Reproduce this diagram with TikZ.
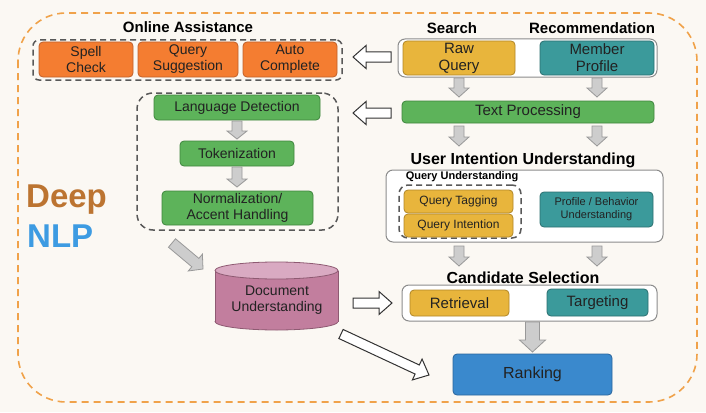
\documentclass[tikz,border=0pt]{standalone}
\usepackage{fontspec}
\setmainfont{Liberation Sans}
\usetikzlibrary{calc,fit}
\definecolor{bg}{HTML}{FBF8F3}
\definecolor{outer}{HTML}{F0A24A}
\definecolor{orfill}{HTML}{F47D31}
\definecolor{ordraw}{HTML}{C0602A}
\definecolor{yefill}{HTML}{E8B53C}
\definecolor{yedraw}{HTML}{B08628}
\definecolor{tefill}{HTML}{3B9A9B}
\definecolor{tedraw}{HTML}{2B6F70}
\definecolor{grfill}{HTML}{5DB35A}
\definecolor{grdraw}{HTML}{3E843D}
\definecolor{blfill}{HTML}{3A89CD}
\definecolor{bldraw}{HTML}{2A659C}
\definecolor{pkfill}{HTML}{C27E9E}
\definecolor{pktop}{HTML}{D9AAC2}
\definecolor{pkdraw}{HTML}{8E5A72}
\definecolor{arrfill}{HTML}{CDCDCD}
\definecolor{arrdraw}{HTML}{999999}
\definecolor{txt}{HTML}{222222}
\definecolor{deepc}{HTML}{BC7431}
\definecolor{nlpc}{HTML}{3D9BE2}
\newcommand\barrow[6]{%
  \coordinate (ba1) at (#2);
  \coordinate (ba2) at (#3);
  \coordinate (bah) at ($(ba2)!#6!(ba1)$);
  \draw[#1] ($(ba1)!#4!90:(ba2)$) -- ($(bah)!#4!90:(ba2)$) -- ($(bah)!#5!90:(ba2)$)
    -- (ba2) -- ($(bah)!#5!-90:(ba2)$) -- ($(bah)!#4!-90:(ba2)$) -- ($(ba1)!#4!-90:(ba2)$) -- cycle;
}
\tikzset{
  box/.style={rounded corners=4pt, line width=0.8pt, align=center, text=txt, inner sep=0pt, font=\fontsize{14}{16}\selectfont},
  orbox/.style={box, fill=orfill, draw=ordraw},
  yebox/.style={box, fill=yefill, draw=yedraw},
  tebox/.style={box, fill=tefill, draw=tedraw},
  grbox/.style={box, fill=grfill, draw=grdraw},
  blbox/.style={box, fill=blfill, draw=bldraw},
  dashgroup/.style={draw=black!65, dash pattern=on 6pt off 4pt, line width=1.5pt, inner sep=0pt},
  whitegroup/.style={draw=black!45, fill=white, rounded corners=7pt, line width=1pt, inner sep=0pt},
  title/.style={font=\bfseries\fontsize{15}{17}\selectfont, text=black, inner sep=0pt},
  grayarr/.style={fill=arrfill, draw=arrdraw, line width=0.8pt, line join=miter},
  hollowarr/.style={fill=white, draw=black!80, line width=1pt, line join=miter},
}
\begin{document}
\begin{tikzpicture}[x=1pt,y=-1pt]
\useasboundingbox (0,0) rectangle (706,412);
\fill[bg] (0,0) rectangle (706,412);
% outer dashed frame
\draw[outer, line width=1.6pt, dash pattern=on 7pt off 5pt, rounded corners=48pt] (18,13) rectangle (697,402);

% Deep NLP
\node[anchor=base west, text=deepc, font=\bfseries\fontsize{33}{33}\selectfont, inner sep=0pt] (deep) at (26,207) {Deep};
\node[anchor=base west, text=nlpc, font=\bfseries\fontsize{33}{33}\selectfont, inner sep=0pt] (nlp) at (27,247) {NLP};

% Online assistance
\node[title] (ontitle) at (188,27) {Online Assistance};
\node[dashgroup, rounded corners=6pt, minimum width=309pt, minimum height=40pt] (ongroup) at (187.5,60) {};
\node[orbox, minimum width=94pt, minimum height=35pt] (spell) at (86,59.5) {Spell\\Check};
\node[orbox, minimum width=100pt, minimum height=35pt] (qsugg) at (188,59.5) {Query\\Suggestion};
\node[orbox, minimum width=94pt, minimum height=35pt] (auto) at (290,59.5) {Auto\\Complete};

% Search / Recommendation
\node[title] (search) at (452,28) {Search};
\node[title] (recom) at (592,28) {Recommendation};
\node[whitegroup, minimum width=259pt, minimum height=38pt] (sgroup) at (527.5,58) {};
\node[yebox, minimum width=112pt, minimum height=34pt, font=\fontsize{15}{17}\selectfont] (raw) at (459,58) {Raw\\Query};
\node[tebox, minimum width=114pt, minimum height=34pt, font=\fontsize{15}{17}\selectfont] (member) at (597,58) {Member\\Profile};

% Text processing
\node[grbox, minimum width=252pt, minimum height=22pt, font=\fontsize{15}{17}\selectfont] (textproc) at (528,112) {Text Processing};

% Language pipeline
\node[dashgroup, rounded corners=16pt, minimum width=201pt, minimum height=137pt] (lgroup) at (237.5,161.5) {};
\node[grbox, minimum width=166pt, minimum height=25pt] (langdet) at (237,107.5) {Language Detection};
\node[grbox, minimum width=114pt, minimum height=25pt] (token) at (237,153.5) {Tokenization};
\node[grbox, minimum width=151pt, minimum height=34pt] (norm) at (237.5,208) {Normalization/\\Accent Handling};

% Document understanding cylinder
\filldraw[fill=pkfill, draw=pkdraw, line width=0.8pt] (276.5,321.5) ellipse (61.5 and 8.5);
\fill[pkfill] (215,270.5) rectangle (338,321.5);
\draw[pkdraw, line width=0.8pt] (215,270.5) -- (215,321.5) (338,270.5) -- (338,321.5);
\filldraw[fill=pktop, draw=pkdraw, line width=0.8pt] (276.5,270.5) ellipse (61.5 and 8.5);
\node[align=center, text=txt, font=\fontsize{14}{16}\selectfont, inner sep=0pt] (docu) at (277,300.5) {Document\\Understanding};

% User intention understanding
\node[title, font=\bfseries\fontsize{16}{18}\selectfont] (uititle) at (523,160) {User Intention Understanding};
\node[whitegroup, minimum width=277pt, minimum height=72pt] (uigroup) at (524.5,206) {};
\node[dashgroup, rounded corners=9pt, minimum width=122pt, minimum height=53pt] (qugroup) at (460,211.5) {};
\node[title, font=\bfseries\fontsize{11}{13}\selectfont] (qutitle) at (462,176.5) {Query Understanding};
\node[yebox, minimum width=109pt, minimum height=23pt, font=\fontsize{12}{14}\selectfont] (qtag) at (458.5,201.5) {Query Tagging};
\node[yebox, minimum width=109pt, minimum height=23pt, font=\fontsize{12}{14}\selectfont] (qint) at (458.5,225.5) {Query Intention};
\node[tebox, minimum width=113pt, minimum height=35pt, font=\fontsize{11}{13}\selectfont] (profile) at (596.5,209.5) {Profile / Behavior\\Understanding};

% Candidate selection
\node[title, font=\bfseries\fontsize{16}{18}\selectfont] (cstitle) at (523,278) {Candidate Selection};
\node[whitegroup, minimum width=255pt, minimum height=36pt] (cgroup) at (529.5,303) {};
\node[yebox, minimum width=99pt, minimum height=26pt, font=\fontsize{15}{17}\selectfont] (retr) at (459.5,303) {Retrieval};
\node[tebox, minimum width=101pt, minimum height=27pt, font=\fontsize{15}{17}\selectfont] (target) at (597.5,302.5) {Targeting};

% Ranking
\node[blbox, minimum width=159pt, minimum height=41pt, font=\fontsize{16}{18}\selectfont] (rank) at (532.5,374.5) {Ranking};

% gray arrows
\barrow{grayarr}{raw.south |- 0,78}{raw.south |- 0,97}{5pt}{10pt}{9pt}
\barrow{grayarr}{member.south |- 0,78}{member.south |- 0,97}{5pt}{10pt}{9pt}
\barrow{grayarr}{langdet.south |- 0,121}{langdet.south |- 0,139}{5pt}{10pt}{8pt}
\barrow{grayarr}{token.south |- 0,167}{token.south |- 0,187}{5pt}{10pt}{8pt}
\barrow{grayarr}{raw.south |- 0,126}{raw.south |- 0,146}{5pt}{10pt}{9pt}
\barrow{grayarr}{member.south |- 0,126}{member.south |- 0,146}{5pt}{10pt}{9pt}
\barrow{grayarr}{raw.south |- 0,246}{raw.south |- 0,266}{5pt}{10pt}{9pt}
\barrow{grayarr}{member.south |- 0,246}{member.south |- 0,266}{5pt}{10pt}{9pt}
\barrow{grayarr}{172,243}{203,269}{5.5pt}{11pt}{10pt}
\barrow{grayarr}{rank.north |- 0,322}{rank.north |- 0,352}{7pt}{13pt}{12pt}

% hollow arrows
\coordinate (h1a) at (391,57);
\coordinate (h1b) at (353,57);
\barrow{hollowarr}{h1a}{h1b}{5pt}{11.5pt}{13pt}
\coordinate (h2a) at (391,113);
\coordinate (h2b) at (353,113);
\barrow{hollowarr}{h2a}{h2b}{5pt}{11.5pt}{13pt}
\barrow{hollowarr}{353,303}{392,303}{5pt}{11.5pt}{13pt}
\barrow{hollowarr}{341,334}{429,375}{5pt}{11.5pt}{13pt}
\end{tikzpicture}
\end{document}
